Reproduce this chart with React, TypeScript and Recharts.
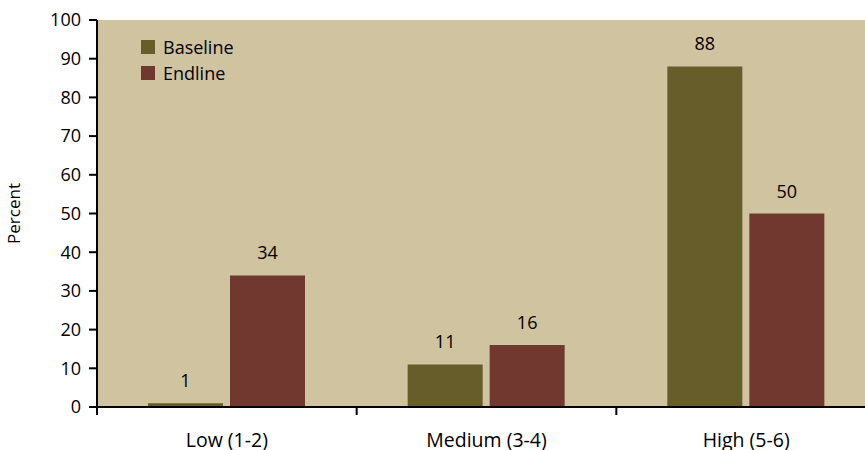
import React from "react";
import { BarChart, Bar, XAxis, YAxis, CartesianGrid, LabelList } from "recharts";

const categories = ["Low (1-2)", "Medium (3-4)", "High (5-6)"];
const baseline = [1, 11, 88];
const endline = [34, 16, 50];
const yTicks = [0, 10, 20, 30, 40, 50, 60, 70, 80, 90, 100];
const seriesNames = ["Baseline", "Endline"];

const data = categories.map((c, i) => ({ name: c, Baseline: baseline[i], Endline: endline[i] }));

const FONT = "'Open Sans', 'Noto Sans', sans-serif";
const C_BASE = "#665D2A";
const C_END = "#713830";
const colors = [C_BASE, C_END];

const X_TICK_SIZE = 8;
const X_TICK_MARGIN = 18;

const CategoryTick = (props: any) => {
  const { x, y, payload } = props;
  const half = payload && typeof payload.offset === "number" && payload.offset > 0 ? payload.offset : 129.8;
  const axisY = y - X_TICK_MARGIN - X_TICK_SIZE;
  return (
    <g>
      <line x1={x - half} x2={x - half} y1={axisY} y2={axisY + X_TICK_SIZE} stroke="#000" strokeWidth={2} />
      <text x={x} y={y} dy="0.71em" textAnchor="middle" fill="#000" fontSize={19.5} fontFamily={FONT}>
        {payload.value}
      </text>
    </g>
  );
};

export default function App() {
  return (
    <div style={{ position: "absolute", left: 0, top: 0, width: 865, height: 450, overflow: "hidden", background: "#fff" }}>
      <BarChart
        width={876}
        height={450}
        data={data}
        margin={{ top: 20, right: 0, bottom: 8, left: 0 }}
        barCategoryGap={51}
        barGap={7}
      >
        <CartesianGrid fill="#CFC3A0" horizontal={false} vertical={false} stroke="none" />
        <XAxis
          dataKey="name"
          height={35}
          axisLine={{ stroke: "#000", strokeWidth: 2 }}
          tickLine={false}
          tickSize={X_TICK_SIZE}
          tickMargin={X_TICK_MARGIN}
          tick={<CategoryTick />}
          interval={0}
        />
        <YAxis
          width={97}
          domain={[0, 100]}
          ticks={yTicks}
          axisLine={{ stroke: "#000", strokeWidth: 2 }}
          tickLine={{ stroke: "#000", strokeWidth: 2 }}
          tickSize={8}
          tickMargin={8}
          tick={{ fill: "#000", fontSize: 18, fontFamily: FONT }}
          label={{ value: "Percent", angle: -90, position: "insideLeft", offset: 14, style: { fill: "#000", fontSize: 17, fontFamily: FONT, textAnchor: "middle" } }}
        />
        <Bar dataKey="Baseline" fill={C_BASE} isAnimationActive={false}>
          <LabelList dataKey="Baseline" position="top" offset={16} style={{ fill: "#000", fontSize: 18, fontFamily: FONT }} />
        </Bar>
        <Bar dataKey="Endline" fill={C_END} isAnimationActive={false}>
          <LabelList dataKey="Endline" position="top" offset={16} style={{ fill: "#000", fontSize: 18, fontFamily: FONT }} />
        </Bar>
      </BarChart>
      <div style={{ position: "absolute", left: 141, top: 34, fontFamily: FONT, fontSize: 18, color: "#000", lineHeight: "26px" }}>
        {seriesNames.map((n, i) => (
          <div key={n} style={{ display: "flex", alignItems: "center" }}>
            <span style={{ width: 14, height: 14, background: colors[i], display: "inline-block", marginRight: 8 }} />
            <span>{n}</span>
          </div>
        ))}
      </div>
    </div>
  );
}
